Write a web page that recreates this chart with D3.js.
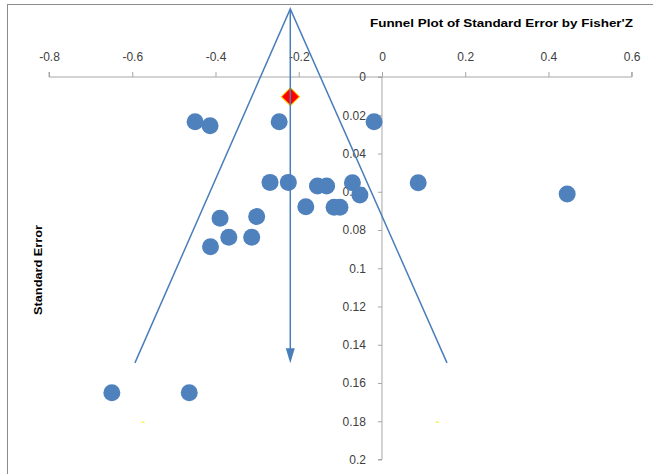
<!DOCTYPE html>
<html>
<head>
<meta charset="utf-8">
<script src="https://cdn.jsdelivr.net/npm/d3@7"></script>
<style>
  body { margin: 0; background: #fff; }
  .axis path, .axis line { stroke: #a6a6a6; }
  .axis text { font-family: "Liberation Sans", Arial, sans-serif; font-size: 12px; fill: #404040; }
</style>
</head>
<body>
<div class="chart"></div>
<script>
// study effects (Fisher's Z) and their standard errors
var fisherZ = [-0.449, -0.413, -0.247, -0.019, -0.269, -0.225, -0.155, -0.133, -0.071, -0.053,
               -0.183, -0.115, -0.101, 0.087, 0.445, -0.389, -0.301, -0.368, -0.313, -0.412,
               -0.649, -0.463];
var stdErr = [0.0234, 0.0255, 0.0234, 0.0234, 0.0551, 0.0551, 0.0570, 0.0570, 0.0553, 0.0617,
              0.0678, 0.0681, 0.0681, 0.0553, 0.0612, 0.0739, 0.0730, 0.0838, 0.0838, 0.0887,
              0.1651, 0.1651];

// summary estimate
var summaryZ = -0.220;
var summarySE = 0.0103;

// funnel outline: left end, apex, right end
var funnelZ = [-0.5935, -0.2203, 0.1562];
var funnelSE = [0.1495, -0.0356, 0.1495];

// tiny yellow markers near the bottom
var extraZ = [-0.574, 0.133];
var extraSE = [0.1805, 0.1805];

var xTicks = [-0.8, -0.6, -0.4, -0.2, 0, 0.2, 0.4, 0.6];
var yTicks = [0, 0.02, 0.04, 0.06, 0.08, 0.1, 0.12, 0.14, 0.16, 0.18, 0.2];

var svgWidth = 653;
var svgHeight = 474;

var svg = d3.select(".chart")
  .append("svg")
  .attr("width", svgWidth)
  .attr("height", svgHeight);

// outer frame
svg.append("rect")
  .attr("x", 7.5)
  .attr("y", 4.5)
  .attr("width", 700)
  .attr("height", 500)
  .attr("fill", "none")
  .attr("stroke", "#8c8c8c")
  .attr("stroke-width", 1);

var xScale = d3.scaleLinear()
  .domain([-0.8, 0.6])
  .range([49, 631.7]);

var yScale = d3.scaleLinear()
  .domain([0, 0.2])
  .range([77, 459.5]);

var topAxis = d3.axisTop(xScale)
  .tickValues(xTicks)
  .tickSize(5)
  .tickPadding(11)
  .tickFormat(d => String(+d.toFixed(1)));

var leftAxis = d3.axisLeft(yScale)
  .tickValues(yTicks)
  .tickSize(4)
  .tickPadding(12)
  .tickFormat(d => String(+d.toFixed(2)));

svg.append("g")
  .attr("class", "axis")
  .attr("transform", `translate(0, ${yScale(0)})`)
  .call(topAxis)
  .call(g => g.select(".domain").attr("d", `M${xScale(-0.8)},-5V0H${xScale(0.6)}V-5`));

svg.append("g")
  .attr("class", "axis")
  .attr("transform", `translate(${xScale(0)}, 0)`)
  .call(leftAxis)
  .call(g => g.select(".domain").attr("d", `M-4,${yScale(0)}H0V${yScale(0.2)}H-4`));

// title
svg.append("text")
  .attr("x", 370)
  .attr("y", 27)
  .attr("textLength", 263)
  .attr("lengthAdjust", "spacingAndGlyphs")
  .style("font-family", "Liberation Sans, Arial, sans-serif")
  .style("font-size", "11px")
  .style("font-weight", "bold")
  .style("fill", "#000")
  .text("Funnel Plot of Standard Error by Fisher'Z");

// y axis title
svg.append("text")
  .attr("transform", "translate(42, 270) rotate(-90)")
  .attr("text-anchor", "middle")
  .attr("textLength", 90)
  .attr("lengthAdjust", "spacingAndGlyphs")
  .style("font-family", "Liberation Sans, Arial, sans-serif")
  .style("font-size", "11px")
  .style("font-weight", "bold")
  .style("fill", "#000")
  .text("Standard Error");

var blue = "#4a7ebb";

// funnel lines
var line = d3.line()
  .x(d => xScale(d[0]))
  .y(d => yScale(d[1]));

svg.append("path")
  .datum(funnelZ.map((z, i) => [z, funnelSE[i]]))
  .attr("d", line)
  .attr("fill", "none")
  .attr("stroke", blue)
  .attr("stroke-width", 1.5);

// study points
svg.selectAll("circle.study")
  .data(fisherZ.map((z, i) => ({ z: z, se: stdErr[i] })))
  .enter()
  .append("circle")
  .attr("class", "study")
  .attr("cx", d => xScale(d.z))
  .attr("cy", d => yScale(d.se))
  .attr("r", 8.5)
  .attr("fill", "#4f81bd");

// yellow specks
svg.selectAll("rect.extra")
  .data(extraZ.map((z, i) => ({ z: z, se: extraSE[i] })))
  .enter()
  .append("rect")
  .attr("class", "extra")
  .attr("x", d => xScale(d.z) - 1.5)
  .attr("y", d => yScale(d.se) - 0.5)
  .attr("width", 3)
  .attr("height", 1)
  .attr("fill", "#f5f000");

// summary diamond
svg.append("path")
  .attr("d", d3.symbol().type(d3.symbolSquare).size(165)())
  .attr("transform", `translate(${xScale(summaryZ)}, ${yScale(summarySE)}) rotate(45)`)
  .attr("fill", "#ff0000")
  .attr("stroke", "#ffd200")
  .attr("stroke-width", 1);

// arrow down from the apex
var arrowX = xScale(funnelZ[1]);
var arrowTip = yScale(0.1497);

svg.append("line")
  .attr("x1", arrowX)
  .attr("y1", yScale(funnelSE[1]))
  .attr("x2", arrowX)
  .attr("y2", arrowTip - 14)
  .attr("stroke", blue)
  .attr("stroke-width", 1.5);

svg.append("path")
  .attr("d", `M${arrowX - 4.5},${arrowTip - 15}L${arrowX + 4.5},${arrowTip - 15}L${arrowX},${arrowTip}Z`)
  .attr("fill", blue);
</script>
</body>
</html>
